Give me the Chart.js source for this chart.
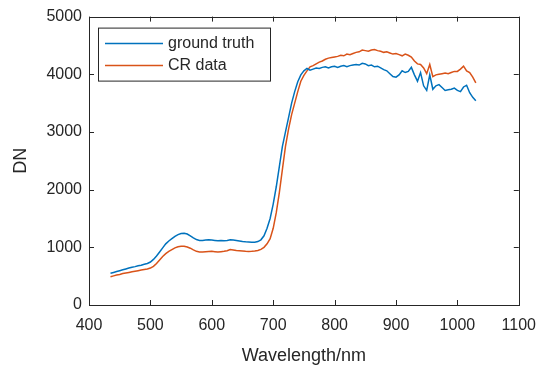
<!DOCTYPE html>
<html>
<head>
<meta charset="utf-8">
<script src="https://cdn.jsdelivr.net/npm/chart.js@4.4.1/dist/chart.umd.min.js"></script>
<style>
  html, body { margin: 0; padding: 0; background: #fff; }
  #wrap { width: 547px; height: 371px; }
</style>
</head>
<body>
<div id="wrap"><canvas id="specChart" width="547" height="371"></canvas></div>
<script>
// wavelengths (nm), 5 nm step
const wavelengths = [
  435, 440, 445, 450, 455, 460, 465, 470, 475, 480, 485, 490, 495, 500, 505, 510, 515, 520, 525, 530,
  535, 540, 545, 550, 555, 560, 565, 570, 575, 580, 585, 590, 595, 600, 605, 610, 615, 620, 625, 630,
  635, 640, 645, 650, 655, 660, 665, 670, 675, 680, 685, 690, 695, 700, 705, 710, 715, 720, 725, 730,
  735, 740, 745, 750, 755, 760, 765, 770, 775, 780, 785, 790, 795, 800, 805, 810, 815, 820, 825, 830,
  835, 840, 845, 850, 855, 860, 865, 870, 875, 880, 885, 890, 895, 900, 905, 910, 915, 920, 925, 930,
  935, 940, 945, 950, 955, 960, 965, 970, 975, 980, 985, 990, 995, 1000, 1005, 1010, 1015, 1020, 1025, 1030
];

const groundTruth = [
  550, 565, 580, 595, 610, 625, 640, 655, 665, 680, 690, 705, 720, 745, 790, 850, 920, 990, 1060, 1110,
  1150, 1190, 1220, 1240, 1245, 1230, 1200, 1165, 1135, 1120, 1120, 1125, 1130, 1125, 1120, 1115, 1118, 1115, 1120, 1130,
  1128, 1120, 1110, 1100, 1095, 1092, 1090, 1090, 1100, 1130, 1200, 1330, 1500, 1750, 2050, 2400, 2750, 3000, 3250, 3500,
  3700, 3870, 3990, 4060, 4100, 4070, 4090, 4110, 4100, 4120, 4130, 4110, 4130, 4140, 4120, 4140, 4150, 4130, 4150, 4160,
  4170, 4160, 4190, 4180, 4150, 4160, 4130, 4140, 4110, 4080, 4060, 4010, 3960, 3950, 3990, 4060, 4030, 4050, 4120, 3990,
  3880, 4030, 3800, 3720, 3990, 3740, 3800, 3820, 3770, 3720, 3730, 3740, 3760, 3720, 3700, 3780, 3810, 3680, 3600, 3540
];

const crData = [
  490, 505, 520, 530, 545, 555, 565, 575, 585, 595, 605, 615, 625, 640, 670, 720, 780, 840, 890, 930,
  960, 990, 1010, 1020, 1020, 1005, 985, 955, 930, 920, 920, 925, 928, 930, 925, 920, 925, 930, 940, 960,
  955, 945, 940, 935, 930, 928, 930, 935, 945, 965, 1000, 1060, 1150, 1330, 1600, 1950, 2350, 2750, 3050, 3300,
  3500, 3700, 3880, 3980, 4060, 4130, 4150, 4180, 4210, 4230, 4260, 4280, 4290, 4300, 4310, 4330, 4320, 4350, 4340, 4360,
  4380, 4390, 4420, 4410, 4400, 4420, 4430, 4410, 4400, 4380, 4390, 4370, 4350, 4360, 4340, 4320, 4350, 4330, 4300, 4230,
  4180, 4170, 4110, 4010, 4170, 3960, 3990, 4000, 4010, 4020, 4010, 4030, 4050, 4050, 4090, 4140, 4060, 4030, 3950, 3850
];

const seriesNames = ["ground truth", "CR data"];
const xTicks = [400, 500, 600, 700, 800, 900, 1000, 1100];
const yTicks = [0, 1000, 2000, 3000, 4000, 5000];

const FONT = "'Liberation Sans', Arial, sans-serif";
const AXIS_COLOR = "#262626";
const TEXT_COLOR = "#262626";

function toPoints(xs, ys) {
  return xs.map((x, i) => ({ x: x, y: ys[i] }));
}

// box around the axes + ticks pointing inward, like MATLAB
const axesBox = {
  id: "axesBox",
  afterDraw(chart) {
    const { ctx, chartArea: a, scales } = chart;
    ctx.save();
    ctx.strokeStyle = AXIS_COLOR;
    ctx.lineWidth = 1;
    ctx.strokeRect(Math.round(a.left) + 0.5, Math.round(a.top) + 0.5,
                   Math.round(a.right - a.left), Math.round(a.bottom - a.top));
    const len = 5;
    ctx.beginPath();
    xTicks.forEach(v => {
      const px = Math.round(scales.x.getPixelForValue(v)) + 0.5;
      ctx.moveTo(px, a.bottom); ctx.lineTo(px, a.bottom - len);
      ctx.moveTo(px, a.top); ctx.lineTo(px, a.top + len);
    });
    yTicks.forEach(v => {
      const py = Math.round(scales.y.getPixelForValue(v)) + 0.5;
      ctx.moveTo(a.left, py); ctx.lineTo(a.left + len, py);
      ctx.moveTo(a.right, py); ctx.lineTo(a.right - len, py);
    });
    ctx.stroke();

    // legend box in upper left
    const lx = a.left + 9, ly = a.top + 11, lw = 172, lh = 53;
    ctx.fillStyle = "#fff";
    ctx.fillRect(lx, ly, lw, lh);
    ctx.strokeRect(lx + 0.5, ly + 0.5, lw, lh);
    ctx.font = "16px " + FONT;
    ctx.textBaseline = "middle";
    chart.data.datasets.forEach((ds, i) => {
      const y = ly + 16 + i * 22;
      ctx.strokeStyle = ds.borderColor;
      ctx.lineWidth = 1.5;
      ctx.beginPath();
      ctx.moveTo(lx + 7, y); ctx.lineTo(lx + 65, y);
      ctx.stroke();
      ctx.fillStyle = TEXT_COLOR;
      ctx.fillText(ds.label, lx + 70, y);
    });
    ctx.restore();
  }
};

const ctx = document.getElementById("specChart").getContext("2d");
const specChart = new Chart(ctx, {
  type: "line",
  data: {
    datasets: [
      {
        label: seriesNames[0],
        data: toPoints(wavelengths, groundTruth),
        borderColor: "#0072BD",
        borderWidth: 1.5,
        pointRadius: 0,
        tension: 0
      },
      {
        label: seriesNames[1],
        data: toPoints(wavelengths, crData),
        borderColor: "#D95319",
        borderWidth: 1.5,
        pointRadius: 0,
        tension: 0
      }
    ]
  },
  options: {
    responsive: false,
    animation: false,
    layout: { padding: { top: 15, right: 24, left: 0, bottom: 0 } },
    plugins: {
      legend: { display: false },
      tooltip: { enabled: false }
    },
    scales: {
      x: {
        type: "linear",
        min: 400,
        max: 1100,
        afterBuildTicks: scale => { scale.ticks = xTicks.map(v => ({ value: v })); },
        afterFit: scale => { scale.height = 66; },
        grid: { display: false, drawTicks: false },
        border: { display: false },
        ticks: {
          color: TEXT_COLOR, font: { family: FONT, size: 16 }, padding: 11, maxRotation: 0,
          callback: v => String(v)
        },
        title: {
          display: true,
          text: "Wavelength/nm",
          color: TEXT_COLOR,
          font: { family: FONT, size: 18 },
          padding: { top: 4 }
        }
      },
      y: {
        type: "linear",
        min: 0,
        max: 5000,
        afterBuildTicks: scale => { scale.ticks = yTicks.map(v => ({ value: v })); },
        afterFit: scale => { scale.width = 89; },
        grid: { display: false, drawTicks: false },
        border: { display: false },
        ticks: {
          color: TEXT_COLOR, font: { family: FONT, size: 16 }, padding: 7,
          callback: v => String(v)
        },
        title: {
          display: true,
          text: "DN",
          color: TEXT_COLOR,
          font: { family: FONT, size: 18 },
          padding: { top: 10, bottom: 4 }
        }
      }
    }
  },
  plugins: [axesBox]
});
</script>
</body>
</html>
